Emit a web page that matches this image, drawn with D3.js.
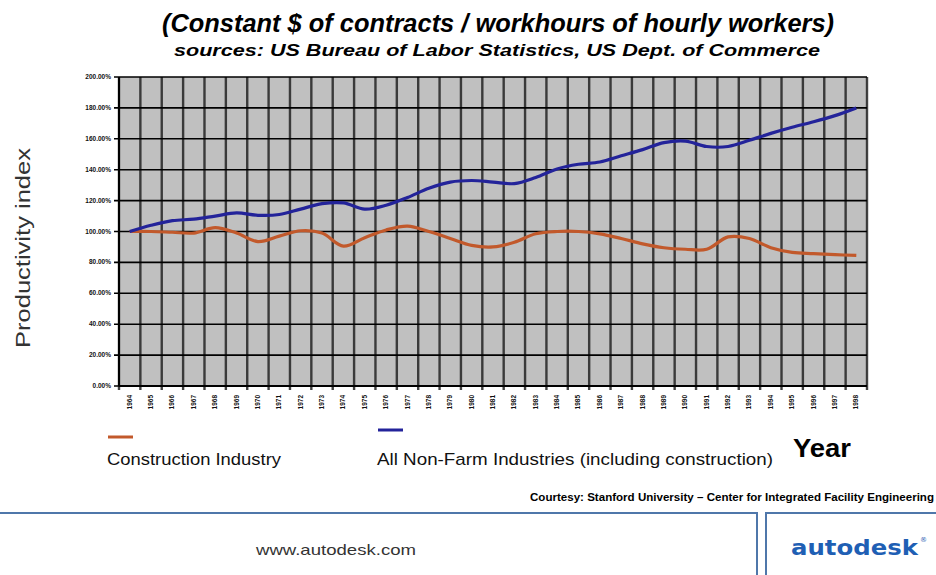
<!DOCTYPE html>
<html>
<head>
<meta charset="utf-8">
<script src="https://cdn.jsdelivr.net/npm/d3@7"></script>
<style>
  body { margin: 0; background: #fff; }
  svg { display: block; }
</style>
</head>
<body>
<svg id="canvas"></svg>
<script>
// values, index 1964 = 100%
let years = d3.range(1964, 1999)
let construction = [100, 100, 99.5, 99, 102.5, 99, 93.5, 97, 100.5, 99,
  90.5, 96, 101, 103.5, 100, 95.5, 91, 90, 93, 98.5,
  100, 100, 98.5, 95.5, 92, 89.5, 88.5, 88.5, 96.5, 95.5,
  89.5, 86.5, 85.7, 85, 84.5]
let nonFarm = [100, 104, 107, 108, 110, 112, 110.5, 111, 114.5, 118,
  118.5, 114.5, 117, 122, 128, 132, 133, 132, 131, 135,
  140.5, 143.5, 145, 149, 153, 157.5, 158.5, 155, 155, 159,
  163.5, 167.5, 171, 175, 180]
let yTicks = [0, 20, 40, 60, 80, 100, 120, 140, 160, 180, 200]

let width = 936
let height = 575

let plot = { left: 119, right: 867, top: 77, bottom: 386 }

let narrow = "Liberation Sans Narrow, Arial Narrow, Liberation Sans, sans-serif"

let canvas = d3.select("#canvas")
  .attr("width", width)
  .attr("height", height)

let x = d3.scaleBand()
  .domain(years)
  .range([plot.left, plot.right])
  .padding(0)

let y = d3.scaleLinear()
  .domain([0, 200])
  .range([plot.bottom, plot.top])

// grey plot area
canvas.append("rect")
  .attr("x", plot.left)
  .attr("y", plot.top)
  .attr("width", plot.right - plot.left)
  .attr("height", plot.bottom - plot.top)
  .attr("fill", "#c0c0c0")

// vertical gridlines on category boundaries (they look soft/thick in the scan)
let bounds = years.map(d => x(d)).concat([plot.right])
canvas.append("g")
  .selectAll("line")
  .data(bounds)
  .enter()
  .append("line")
  .attr("x1", d => d)
  .attr("x2", d => d)
  .attr("y1", plot.top)
  .attr("y2", plot.bottom + 4)
  .attr("stroke", "#222")
  .attr("stroke-opacity", 0.85)
  .attr("stroke-width", 2.4)

// horizontal gridlines
canvas.append("g")
  .selectAll("line")
  .data(yTicks)
  .enter()
  .append("line")
  .attr("x1", plot.left - 5)
  .attr("x2", plot.right)
  .attr("y1", d => y(d))
  .attr("y2", d => y(d))
  .attr("stroke", "#000")
  .attr("stroke-width", 1.6)

// axes lines
canvas.append("line")
  .attr("x1", plot.left).attr("x2", plot.right)
  .attr("y1", plot.bottom).attr("y2", plot.bottom)
  .attr("stroke", "#000").attr("stroke-width", 2)
canvas.append("line")
  .attr("x1", plot.left).attr("x2", plot.left)
  .attr("y1", plot.top).attr("y2", plot.bottom)
  .attr("stroke", "#000").attr("stroke-width", 2)

// y tick labels (tiny in the original)
canvas.append("g")
  .selectAll("text")
  .data(yTicks)
  .enter()
  .append("text")
  .attr("x", plot.left - 8)
  .attr("y", d => y(d) + 2)
  .attr("text-anchor", "end")
  .attr("font-family", narrow)
  .attr("font-size", 6.5)
  .attr("font-weight", "bold")
  .attr("fill", "#111")
  .text(d => d3.format(".2f")(d) + "%")

// x tick labels, rotated
canvas.append("g")
  .selectAll("text")
  .data(years)
  .enter()
  .append("text")
  .attr("transform", d => "translate(" + (x(d) + x.bandwidth() / 2 + 2) + "," + (plot.bottom + 9) + ") rotate(-90)")
  .attr("text-anchor", "end")
  .attr("font-family", narrow)
  .attr("font-size", 6.5)
  .attr("font-weight", "bold")
  .attr("fill", "#111")
  .text(d => d)

// series
let line = d3.line()
  .x((d, i) => x(years[i]) + x.bandwidth() / 2)
  .y(d => y(d))
  .curve(d3.curveCatmullRom.alpha(0.5))

let series = [
  { name: "Construction Industry", values: construction, color: "#c2592b" },
  { name: "All Non-Farm Industries (including construction)", values: nonFarm, color: "#23239a" }
]

canvas.append("g")
  .selectAll("path")
  .data(series)
  .enter()
  .append("path")
  .attr("d", d => line(d.values))
  .attr("fill", "none")
  .attr("stroke", d => d.color)
  .attr("stroke-width", 3.2)
  .attr("stroke-linejoin", "round")

// titles
canvas.append("text")
  .attr("x", 498)
  .attr("y", 32)
  .attr("text-anchor", "middle")
  .attr("font-family", narrow)
  .attr("font-size", 25)
  .attr("font-weight", "bold")
  .attr("font-style", "italic")
  .attr("textLength", 672)
  .attr("lengthAdjust", "spacingAndGlyphs")
  .text("(Constant $ of contracts / workhours of hourly workers)")

canvas.append("text")
  .attr("x", 497)
  .attr("y", 56)
  .attr("text-anchor", "middle")
  .attr("font-family", narrow)
  .attr("font-size", 17)
  .attr("font-weight", "bold")
  .attr("font-style", "italic")
  .attr("textLength", 646)
  .attr("lengthAdjust", "spacingAndGlyphs")
  .text("sources: US Bureau of Labor Statistics, US Dept. of Commerce")

// y axis title
canvas.append("text")
  .attr("transform", "translate(30,248) rotate(-90)")
  .attr("text-anchor", "middle")
  .attr("font-family", "Liberation Sans, Arial, sans-serif")
  .attr("font-size", 20)
  .attr("fill", "#333")
  .attr("textLength", 200)
  .attr("lengthAdjust", "spacingAndGlyphs")
  .text("Productivity index")

// legend
let legendPos = [{ x: 108, y: 437 }, { x: 378, y: 430 }]
let legend = canvas.append("g")
  .selectAll("g")
  .data(series)
  .enter()
  .append("g")
legend.append("line")
  .attr("x1", (d, i) => legendPos[i].x)
  .attr("x2", (d, i) => legendPos[i].x + 25)
  .attr("y1", (d, i) => legendPos[i].y)
  .attr("y2", (d, i) => legendPos[i].y)
  .attr("stroke", d => d.color)
  .attr("stroke-width", 3)
legend.append("text")
  .attr("x", (d, i) => legendPos[i].x - 1)
  .attr("y", 465)
  .attr("font-family", narrow)
  .attr("font-size", 17)
  .attr("fill", "#111")
  .attr("textLength", (d, i) => i == 0 ? 174 : 396)
  .attr("lengthAdjust", "spacingAndGlyphs")
  .text(d => d.name)

canvas.append("text")
  .attr("x", 793)
  .attr("y", 457)
  .attr("font-family", narrow)
  .attr("font-size", 25)
  .attr("font-weight", "bold")
  .attr("textLength", 58)
  .attr("lengthAdjust", "spacingAndGlyphs")
  .text("Year")

canvas.append("text")
  .attr("x", 934)
  .attr("y", 501)
  .attr("text-anchor", "end")
  .attr("font-family", narrow)
  .attr("font-size", 10.5)
  .attr("font-weight", "bold")
  .attr("textLength", 404)
  .attr("lengthAdjust", "spacingAndGlyphs")
  .text("Courtesy: Stanford University \u2013 Center for Integrated Facility Engineering")

// footer frame
let footer = canvas.append("g")
  .attr("fill", "none")
  .attr("stroke", "#4f77aa")
  .attr("stroke-width", 2)
footer.append("path").attr("d", "M0,513 H757 V575")
footer.append("path").attr("d", "M766,575 V513 H936")

canvas.append("text")
  .attr("x", 336)
  .attr("y", 555)
  .attr("text-anchor", "middle")
  .attr("font-family", narrow)
  .attr("font-size", 15)
  .attr("fill", "#333")
  .attr("textLength", 160)
  .attr("lengthAdjust", "spacingAndGlyphs")
  .text("www.autodesk.com")

canvas.append("text")
  .attr("x", 791)
  .attr("y", 555)
  .attr("font-family", "DejaVu Sans, Verdana, sans-serif")
  .attr("font-size", 22)
  .attr("font-weight", "bold")
  .attr("fill", "#1f5fb4")
  .attr("textLength", 127)
  .attr("lengthAdjust", "spacingAndGlyphs")
  .text("autodesk")
canvas.append("text")
  .attr("x", 920)
  .attr("y", 542)
  .attr("font-family", "DejaVu Sans, sans-serif")
  .attr("font-size", 7)
  .attr("fill", "#1f5fb4")
  .text("\u00ae")
</script>
</body>
</html>
